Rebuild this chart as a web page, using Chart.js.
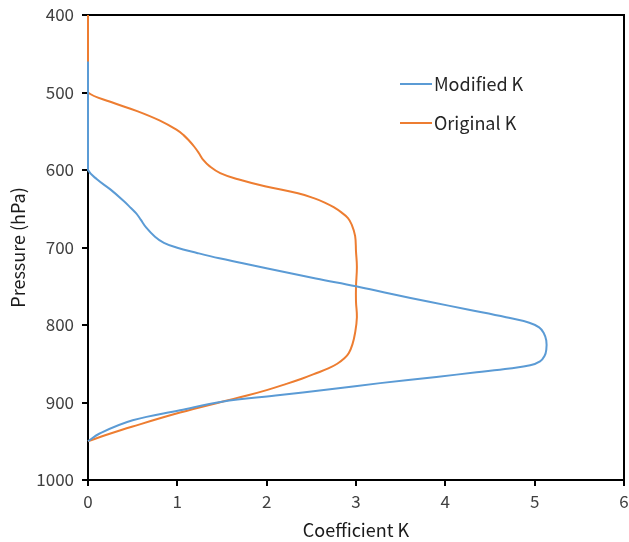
<!DOCTYPE html>
<html>
<head>
<meta charset="utf-8">
<script src="https://cdn.jsdelivr.net/npm/chart.js@4/dist/chart.umd.min.js"></script>
<style>
  html, body { margin: 0; padding: 0; background: #fff; }
  #wrap { width: 629px; height: 542px; }
</style>
</head>
<body>
<div id="wrap"><canvas id="c" width="629" height="542"></canvas></div>
<script>
// Vertical profiles of the coefficient K against pressure level
const modifiedPressure = [460, 590, 600, 612, 625, 640, 649, 656, 664, 674, 686, 694, 700, 707, 714, 720, 727, 740, 750, 760, 770, 780, 790, 797, 803, 810, 820, 832, 840, 847, 852, 856, 861, 867, 875, 883, 891, 899, 910, 923, 940, 950];
const modifiedK        = [0,   0,   0,   0.1, 0.25,0.4, 0.48,0.54,0.59,0.65,0.75,0.85,0.99,1.22,1.47,1.72,2.01,2.55,3.0, 3.4, 3.82,4.25,4.68,4.94,5.05,5.1, 5.13,5.13,5.11,5.06,4.95,4.72,4.35,3.9, 3.27,2.71,2.1, 1.5, 1.03,0.5, 0.13,0];

const originalPressure = [400, 490, 500, 512, 524, 536, 548, 555, 562, 570, 578, 587, 595, 604, 612, 621, 630, 636, 642, 648, 655, 662, 670, 685, 705, 725, 750, 770, 790, 810, 825, 836, 843, 850, 856, 862, 869, 876, 884, 891, 899, 913, 931, 942, 950];
const originalK        = [0,   0,   0,   0.25,0.55,0.8, 0.99,1.07,1.13,1.19,1.24,1.29,1.36,1.48,1.68,1.98,2.35,2.52,2.65,2.75,2.84,2.91,2.95,2.99,3.0, 3.01,3.0, 3.0, 3.01,2.99,2.96,2.92,2.87,2.79,2.69,2.56,2.4, 2.22,2.0, 1.78,1.5, 1.03,0.5, 0.2, 0];

const seriesNames = ['Modified K', 'Original K'];
const seriesColors = ['#5B9BD5', '#ED7D31'];

const xTicks = [0, 1, 2, 3, 4, 5, 6];
const yTicks = [400, 500, 600, 700, 800, 900, 1000];

const toPoints = (ps, ks) => ps.map((p, i) => ({ x: ks[i], y: p }));

const family = "'Noto Sans CJK KR', 'Noto Sans', sans-serif";
const tickFont = { family, size: 17 };
const titleFont = { family, size: 18 };

// Plot frame (top and right edges) drawn under the curves
const framePlugin = {
  id: 'frame',
  beforeDatasetsDraw(chart) {
    const { ctx, chartArea: a } = chart;
    ctx.save();
    ctx.strokeStyle = '#000';
    ctx.lineWidth = 2;
    ctx.beginPath();
    ctx.moveTo(a.left, a.top);
    ctx.lineTo(a.right, a.top);
    ctx.lineTo(a.right, a.bottom);
    ctx.stroke();
    ctx.restore();
  }
};

// Legend placed inside the plot area
const insideLegend = {
  id: 'insideLegend',
  afterDatasetsDraw(chart) {
    const { ctx, chartArea: a } = chart;
    const x0 = a.left + 312, x1 = a.left + 344;
    const y0 = a.top + 69, gap = 39;
    ctx.save();
    ctx.font = "18px " + family;
    ctx.textBaseline = 'middle';
    chart.data.datasets.forEach((ds, i) => {
      const y = y0 + i * gap;
      ctx.strokeStyle = ds.borderColor;
      ctx.lineWidth = 2;
      ctx.beginPath();
      ctx.moveTo(x0, y);
      ctx.lineTo(x1, y);
      ctx.stroke();
      ctx.fillStyle = '#262626';
      ctx.fillText(ds.label, x1 + 2, y);
    });
    ctx.restore();
  }
};

new Chart(document.getElementById('c'), {
  type: 'scatter',
  data: {
    datasets: [
      { label: seriesNames[0], data: toPoints(modifiedPressure, modifiedK), borderColor: seriesColors[0], backgroundColor: seriesColors[0] },
      { label: seriesNames[1], data: toPoints(originalPressure, originalK), borderColor: seriesColors[1], backgroundColor: seriesColors[1] }
    ].map(d => Object.assign(d, { showLine: true, pointRadius: 0, borderWidth: 2, tension: 0.4, clip: 3 }))
  },
  options: {
    responsive: false,
    animation: false,
    layout: { padding: { top: 15, right: 5, left: 0, bottom: 0 } },
    plugins: { legend: { display: false }, tooltip: { enabled: false } },
    scales: {
      x: {
        type: 'linear',
        min: xTicks[0], max: xTicks[xTicks.length - 1],
        afterBuildTicks: s => { s.ticks = xTicks.map(v => ({ value: v })); },
        afterFit: s => { s.height = 62; s.paddingLeft = 0; s.paddingRight = 0; },
        grid: { display: true, drawOnChartArea: false, drawTicks: true, tickLength: 6, color: '#000', lineWidth: 2 },
        border: { display: true, color: '#000', width: 2 },
        ticks: { font: tickFont, color: '#404040', padding: 5, maxRotation: 0, callback: v => String(v) },
        title: { display: true, text: 'Coefficient K', font: titleFont, color: '#1a1a1a', padding: { top: 0, bottom: 1 } }
      },
      y: {
        type: 'linear',
        reverse: true,
        min: yTicks[0], max: yTicks[yTicks.length - 1],
        afterBuildTicks: s => { s.ticks = yTicks.map(v => ({ value: v })); },
        afterFit: s => { s.width = 88; s.paddingTop = 0; s.paddingBottom = 0; },
        grid: { display: true, drawOnChartArea: false, drawTicks: true, tickLength: 6, color: '#000', lineWidth: 2 },
        border: { display: true, color: '#000', width: 2 },
        ticks: { font: tickFont, color: '#404040', padding: 8, callback: v => String(v) },
        title: { display: true, text: 'Pressure (hPa)', font: titleFont, color: '#1a1a1a', padding: { top: 7, bottom: 0 } }
      }
    }
  },
  plugins: [framePlugin, insideLegend]
});
</script>
</body>
</html>
